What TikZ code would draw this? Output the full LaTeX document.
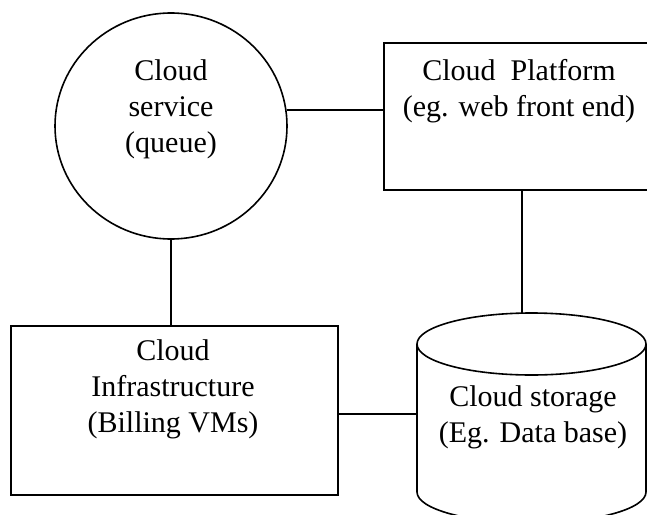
\documentclass[tikz,border=0pt]{standalone}
\usepackage{fontspec}
\setmainfont{Liberation Serif}
\usetikzlibrary{shapes.geometric}
\begin{document}
\begin{tikzpicture}[x=1pt,y=-1pt,line width=1.6pt,
  box/.style={draw,rectangle,inner sep=0pt},
  txt/.style={align=center,font=\fontsize{30}{36}\selectfont,inner sep=0pt}]
\useasboundingbox (0,0) rectangle (647,514);
\clip (0,0) rectangle (647,514);
% shapes
\node[draw,ellipse,minimum width=232pt,minimum height=226pt,inner sep=0pt] (svc) at (171,126) {};
\node[box,minimum width=270pt,minimum height=147pt] (plat) at (519,116.5) {};
\node[box,minimum width=327pt,minimum height=169pt] (infra) at (174.5,410.5) {};
\node[inner sep=0pt,minimum width=229pt,minimum height=210pt] (store) at (531.5,418) {};
\draw (417,344) -- (417,492) arc[start angle=180,end angle=360,x radius=114.5pt,y radius=31pt] -- (646,344);
\draw (531.5,344) ellipse[x radius=114.5pt,y radius=31pt];
% texts
\node[txt] (svcT) at (171,109) {Cloud\\service\\(queue)};
\node[txt] (platT) at (519,91) {Cloud\ \ Platform\\(eg. web front end)};
\node[txt] (infraT) at (173,389) {Cloud\\Infrastructure\\(Billing VMs)};
\node[txt] (storeT) at (533,417) {Cloud storage\\(Eg. Data base)};
% connectors
\coordinate (sttop) at (522,313.2);
\coordinate (stleft) at (417,414);
\draw (svc.8) -- (svc.8 -| plat.west);
\draw (svc.south) -- (svc.south |- infra.north);
\draw (plat.south -| sttop) -- (sttop);
\draw (stleft -| infra.east) -- (stleft);
\end{tikzpicture}
\end{document}
